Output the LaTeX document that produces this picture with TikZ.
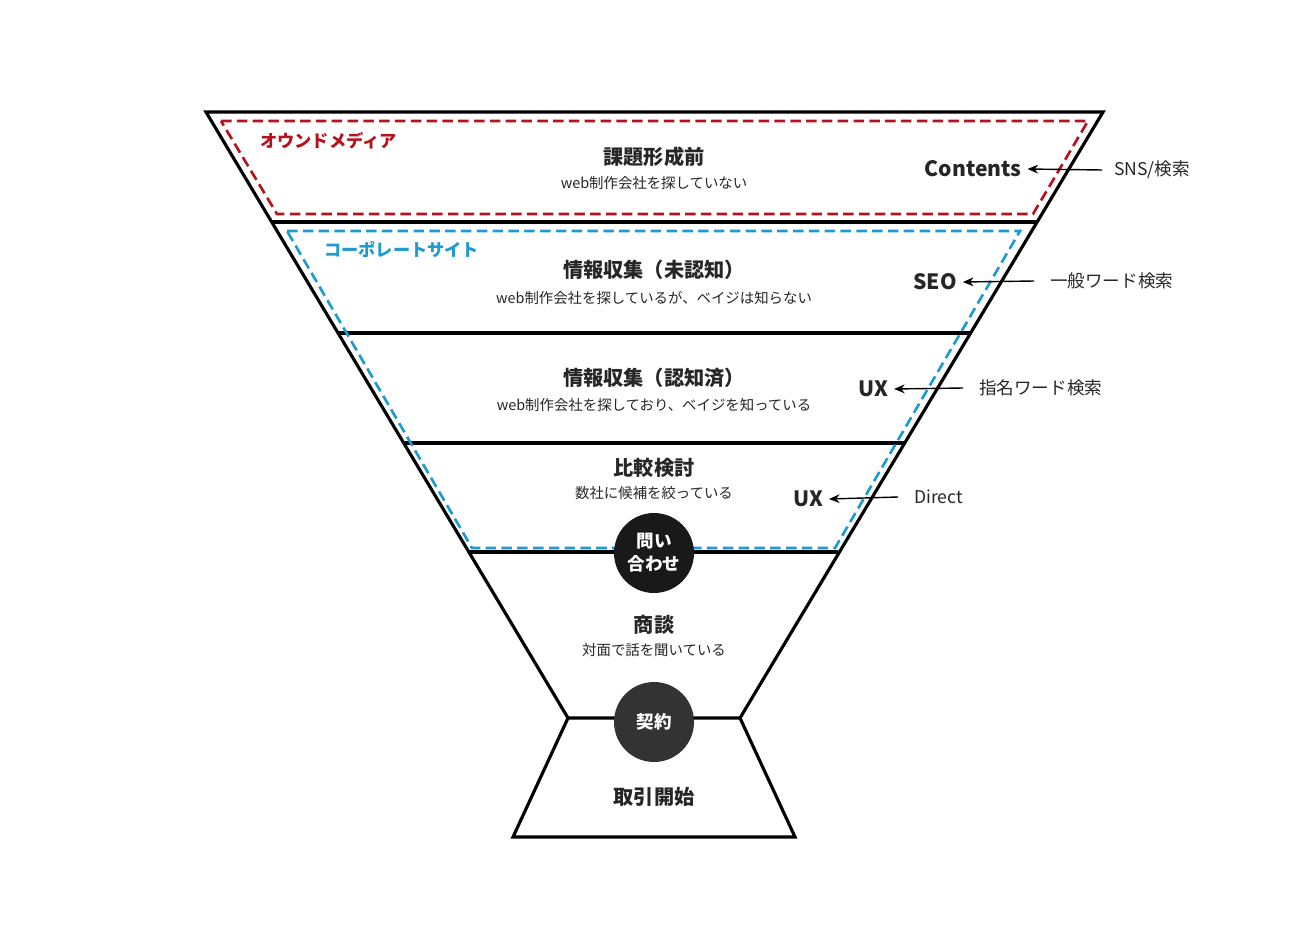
\documentclass[tikz,border=0pt]{standalone}
\usepackage{fontspec}
\setmainfont{Noto Sans CJK JP}
\usetikzlibrary{arrows.meta}
\definecolor{redd}{HTML}{B5121B}
\definecolor{blued}{HTML}{1D9BD1}
\begin{document}
\begin{tikzpicture}[x=0.02cm,y=-0.02cm,
  frame/.style={line width=1.8pt,black},
  ttl/.style={font=\fontsize{11.5}{13}\selectfont\bfseries,text=black!85},
  sub/.style={font=\fontsize{8.2}{10}\selectfont,text=black!85},
  side/.style={font=\fontsize{12}{14}\selectfont\bfseries,text=black!85},
  src/.style={font=\fontsize{10}{12}\selectfont,text=black!85},
  arr/.style={-{Stealth[length=6pt,width=5pt]},line width=0.8pt},
  circ/.style={circle,minimum size=1.6cm,inner sep=0pt,text=white,font=\fontsize{10}{13}\selectfont\bfseries,align=center}]
\useasboundingbox (0,0) rectangle (1310,926);
% funnel
\draw[frame] (206,112) -- (1103,112) -- (740,718) -- (568,718) -- cycle;
\draw[frame] (568,718) -- (513,837) -- (795,837) -- (740,718);
\draw[frame] (272,222) -- (1037,222);
\draw[frame] (339,333) -- (970,333);
\draw[frame] (405,443) -- (904,443);
\draw[frame] (470,552) -- (838,552);
% dashed regions
\draw[redd,line width=1.5pt,dash pattern=on 6pt off 3pt] (221,121) -- (1088,121) -- (1033,214) -- (277,214) -- cycle;
\draw[blued,line width=1.5pt,dash pattern=on 6pt off 3pt] (287,231) -- (1020,231) -- (835,548) -- (472,548) -- cycle;
\node[anchor=west,text=redd,font=\fontsize{9.8}{12}\selectfont\bfseries] (om) at (254,141) {オウンドメディア};
\node[anchor=west,text=blued,font=\fontsize{9.8}{12}\selectfont\bfseries] (cs) at (318,250) {コーポレートサイト};
% stage texts
\node[ttl] (t1) at (654,157) {課題形成前};
\node[sub] (s1) at (654,183) {web制作会社を探していない};
\node[ttl] (t2) at (654,270) {情報収集（未認知）};
\node[sub] (s2) at (654,298) {web制作会社を探しているが、ベイジは知らない};
\node[ttl] (t3) at (654,378) {情報収集（認知済）};
\node[sub] (s3) at (654,405) {web制作会社を探しており、ベイジを知っている};
\node[ttl] (t4) at (654,468) {比較検討};
\node[sub] (s4) at (654,493) {数社に候補を絞っている};
\node[ttl] (t5) at (654,625) {商談};
\node[sub] (s5) at (654,650) {対面で話を聞いている};
\node[ttl] (t6) at (654,797) {取引開始};
\node[circ,fill=black!90] (c1) at (654,553) {問い\\合わせ};
\node[circ,fill=black!80] (c2) at (654,722) {契約};
% side labels
\node[side] (l1) at (973,169) {Contents};
\node[side] (l2) at (935,282) {SEO};
\node[side] (l3) at (873,389) {UX};
\node[side] (l4) at (808,499) {UX};
\node[src,anchor=west] (r1) at (1108,170) {SNS/検索};
\node[src,anchor=west] (r2) at (1044,281) {一般ワード検索};
\node[src,anchor=west] (r3) at (973,388) {指名ワード検索};
\node[src,anchor=west] (r4) at (908,497) {Direct};
\draw[arr] (r1.west) ++(-6,0) -- (l1.east);
\draw[arr] (r2.west) ++(-10,0) -- (l2.east);
\draw[arr] (r3.west) ++(-10,0) -- (l3.east);
\draw[arr] (r4.west) ++(-10,0) -- (l4.east);
\end{tikzpicture}
\end{document}
